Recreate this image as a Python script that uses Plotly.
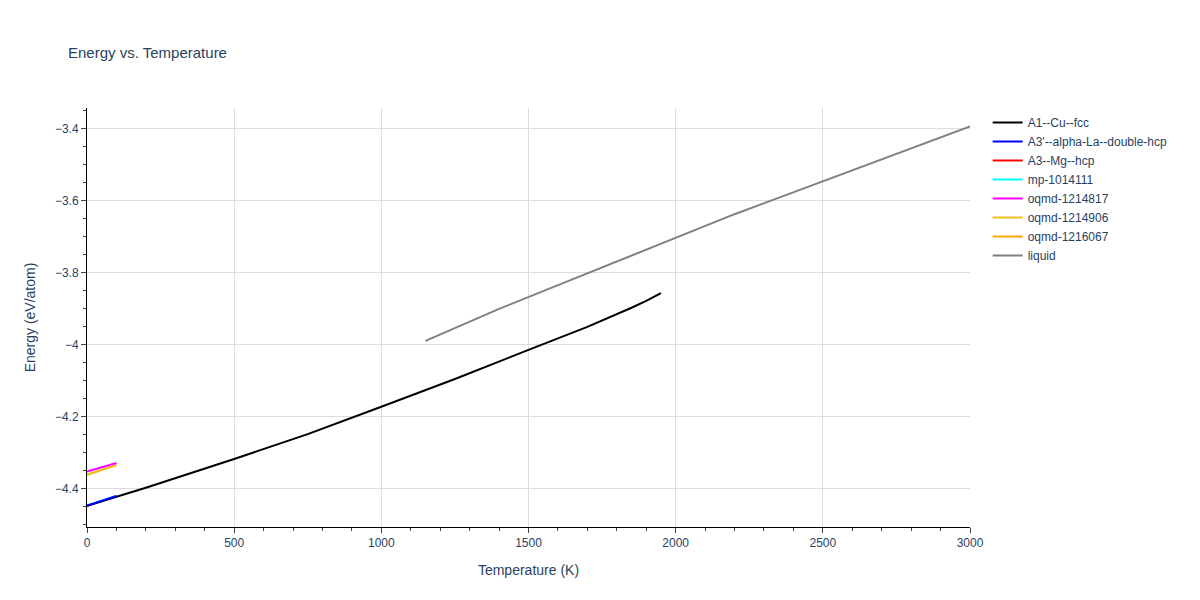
import plotly.graph_objects as go

# temperature (K) and energy (eV/atom) for each phase
fcc_t = [0, 200, 500, 750, 1000, 1250, 1500, 1700, 1850, 1900, 1950]
fcc_e = [-4.447, -4.397, -4.317, -4.248, -4.172, -4.095, -4.014, -3.950, -3.897, -3.878, -3.856]
dhcp_t = [0, 100]
dhcp_e = [-4.447, -4.420]
hcp_t = [0, 100]
hcp_e = [-4.447, -4.421]
mp_t = [0, 100]
mp_e = [-4.446, -4.420]
oq1_t = [0, 100]
oq1_e = [-4.352, -4.328]
oq2_t = [0, 100]
oq2_e = [-4.361, -4.334]
oq3_t = [0, 100]
oq3_e = [-4.361, -4.334]
liq_t = [1150, 1400, 2200, 2600, 3000]
liq_e = [-3.989, -3.900, -3.637, -3.515, -3.393]

series = [
    ("A1--Cu--fcc", fcc_t, fcc_e, "black"),
    ("A3'--alpha-La--double-hcp", dhcp_t, dhcp_e, "blue"),
    ("A3--Mg--hcp", hcp_t, hcp_e, "red"),
    ("mp-1014111", mp_t, mp_e, "cyan"),
    ("oqmd-1214817", oq1_t, oq1_e, "magenta"),
    ("oqmd-1214906", oq2_t, oq2_e, "#f0c020"),
    ("oqmd-1216067", oq3_t, oq3_e, "orange"),
    ("liquid", liq_t, liq_e, "gray"),
]

# drawing order: short hcp lines first, fcc, then blue on top
draw_order = [2, 3, 0, 1, 6, 5, 4, 7]
fig = go.Figure()
for i in draw_order:
    name, t, e, c = series[i]
    fig.add_trace(go.Scatter(x=t, y=e, mode="lines", name=name, legendrank=i,
                             line=dict(color=c, width=2)))

fig.update_layout(
    title="Energy vs. Temperature",
    width=1200, height=600,
    font=dict(family="Liberation Sans, Arial", size=12),
    title_font_size=15,
    margin=dict(l=79, r=238, t=100, b=81),
    plot_bgcolor="white",
    xaxis=dict(title="Temperature (K)", range=[0, 3000], showgrid=True, gridcolor="#dddddd",
               showline=True, linecolor="black", ticks="outside",
               minor=dict(ticks="outside", dtick=100), zeroline=False),
    yaxis=dict(title="Energy (eV/atom)", range=[-4.506, -3.342], showgrid=True, gridcolor="#dddddd",
               showline=True, linecolor="black", ticks="outside",
               minor=dict(ticks="outside", dtick=0.05), zeroline=False),
)
fig.write_html("out.html")
